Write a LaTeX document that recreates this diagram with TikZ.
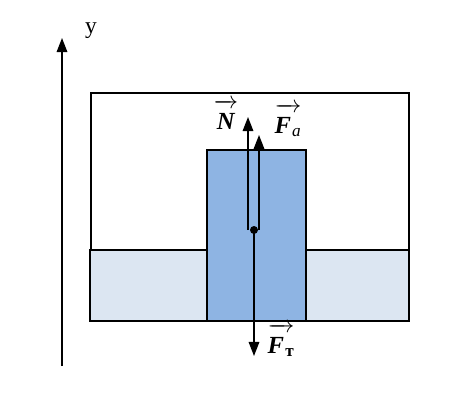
\documentclass[tikz,border=0pt]{standalone}
\usepackage{amsmath}
\usepackage{fontspec}
\setmainfont{Liberation Serif}
\usetikzlibrary{arrows.meta}
\definecolor{blockblue}{HTML}{8EB4E3}
\definecolor{waterblue}{HTML}{DCE6F2}
\newcommand\forcevec[1]{$\overrightarrow{\raisebox{0pt}[1.3\height]{#1}}$}
\tikzset{
  force/.style={line width=1.3pt, -{Triangle[length=12pt, width=9pt]}},
  lbl/.style={font=\fontsize{21}{24}\selectfont, inner sep=0pt}
}

\begin{document}
\begin{tikzpicture}[x=0.03cm, y=-0.03cm]
  \useasboundingbox (0,0) rectangle (476,414);
  % vessel and water
  \draw[black, line width=0.9pt] (91,93) rectangle (409,321);
  \draw[black, line width=0.9pt, fill=waterblue] (90,250) rectangle (409,321);
  % floating block
  \draw[black, line width=0.9pt, fill=blockblue] (207,150) rectangle (306,321);
  % axis
  \coordinate (ybot) at (62,366);
  \coordinate (ytop) at (62,38);
  \draw[force] (ybot) -- (ytop);
  \node[font=\fontsize{20}{22}\selectfont] (ylab) at (91,31) {y};
  % forces
  \coordinate (c) at (254,230);
  \coordinate (ntip) at (248,117);
  \coordinate (fatip) at (259,135);
  \coordinate (fttip) at (254,356);
  \draw[force] (c -| ntip) -- (ntip);
  \draw[force] (c -| fatip) -- (fatip);
  \draw[force] (c) -- (fttip);
  \fill (c) circle (4);
  \node[lbl] (nlab) at (226,115) {\forcevec{\textbf{\textit{N}}}};
  \node[lbl] (falab) at (288,120) {\forcevec{\textbf{\textit{F}}\kern1pt$_{\text{\textit{a}}}$}};
  \node[lbl] (ftlab) at (281,340) {\forcevec{\textbf{\textit{F}}\kern1pt$_{\text{\textbf{т}}}$}};
\end{tikzpicture}
\end{document}
